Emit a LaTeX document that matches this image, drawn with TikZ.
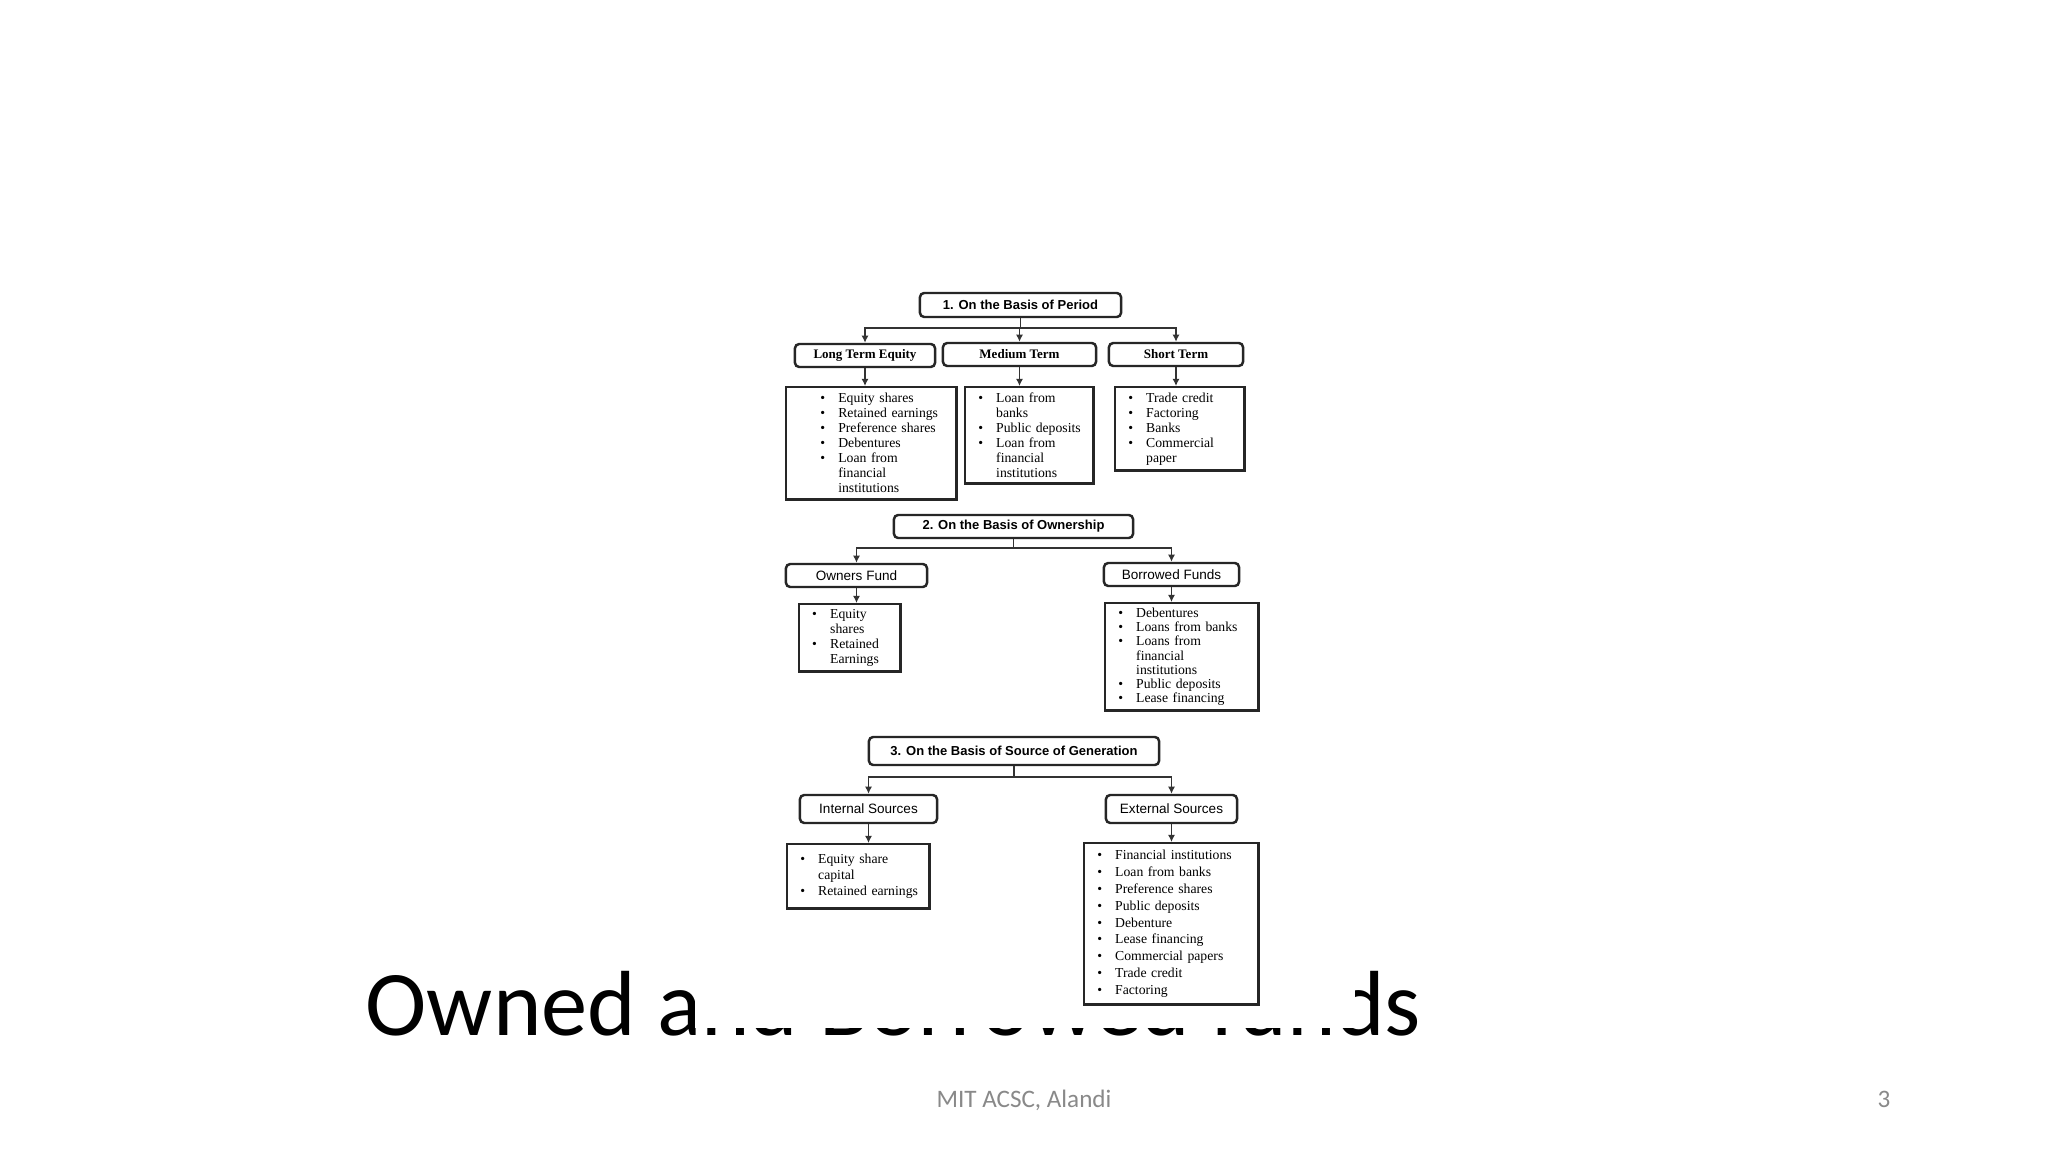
\documentclass[tikz,border=0pt]{standalone}
\usepackage{fontspec}
\setmainfont{Liberation Serif}
\newfontfamily\boxsans{Liberation Sans}
\newfontfamily\slidefont{Carlito}
\usepackage{tikz}
\usetikzlibrary{arrows.meta}
\definecolor{footgray}{RGB}{137,137,137}

\newcommand{\bitem}[2][3.7pt]{\hspace*{#1}\makebox[5.1pt][l]{\textbullet}#2}
\newcommand{\bcont}[2][8.8pt]{\hspace*{#1}#2}

\begin{document}
\begin{tikzpicture}[x=0.01cm,y=-0.01cm,every text node part/.style={align=left}]
  \tikzstyle{basis}=[draw=black!85,line width=0.7pt,rounded corners=1.2pt,
    inner sep=0pt,font=\boxsans\bfseries\fontsize{3.7}{4}\selectfont]
  \tikzstyle{kind}=[draw=black!85,line width=0.7pt,rounded corners=1.2pt,
    inner sep=0pt,minimum height=0.23cm]
  \tikzstyle{kindserif}=[kind,font=\bfseries\fontsize{3.7}{4}\selectfont]
  \tikzstyle{kindsans}=[kind,font=\boxsans\fontsize{3.85}{4}\selectfont]
  \tikzstyle{items}=[draw=black!85,line width=0.7pt,inner xsep=0pt,
    inner ysep=0pt,anchor=north west,font=\fontsize{3.9}{4.27}\selectfont]
  \tikzstyle{conn}=[draw=black!80,line width=0.55pt,
    -{Latex[length=2pt,width=2pt]}]

  \fill[white] (0,0) rectangle (2048,1152);
  \useasboundingbox (0,0) rectangle (2048,1152);

  \node [anchor=base west,inner sep=0pt,
    font=\slidefont\fontsize{26.3}{30}\selectfont] (title) at (365,1035)
    {Owned and Borrowed funds};
  \fill[white] (695,280) rectangle (1355,1028);

  \node [basis,minimum width=2.01cm,minimum height=0.24cm] (period)
    at (1020.5,305) {1. On the Basis of Period};
  \node [kindserif,minimum width=1.40cm] (longterm) at (865,355.5)
    {Long Term Equity};
  \node [kindserif,minimum width=1.53cm] (medterm) at (1019.5,354.5)
    {Medium Term};
  \node [kindserif,minimum width=1.34cm] (shortterm) at (1176,354.5)
    {Short Term};
  \node [items,text width=1.70cm,minimum height=1.12cm] (longlist) at (785,386) {
    \bitem[9.7pt]{Equity shares}\\
    \bitem[9.7pt]{Retained earnings}\\
    \bitem[9.7pt]{Preference shares}\\
    \bitem[9.7pt]{Debentures}\\
    \bitem[9.7pt]{Loan from}\\
    \bcont[14.8pt]{financial}\\
    \bcont[14.8pt]{institutions}
  };
  \node [items,text width=1.28cm,minimum height=0.96cm] (medlist) at (964,386) {
    \bitem{Loan from}\\
    \bcont{banks}\\
    \bitem{Public deposits}\\
    \bitem{Loan from}\\
    \bcont{financial}\\
    \bcont{institutions}
  };
  \node [items,text width=1.29cm,minimum height=0.83cm] (shortlist) at (1114,386) {
    \bitem{Trade credit}\\
    \bitem{Factoring}\\
    \bitem{Banks}\\
    \bitem{Commercial}\\
    \bcont{paper}
  };
  \draw[conn] (period.south) -- ++(0,10) -| (longterm.north);
  \draw[conn] (period.south) -- ++(0,10) -| (medterm.north);
  \draw[conn] (period.south) -- ++(0,10) -| (shortterm.north);
  \draw[conn] (longterm.south) -- (longterm.south |- longlist.north);
  \draw[conn] (medterm.south) -- (medterm.south |- medlist.north);
  \draw[conn] (shortterm.south) -- (shortterm.south |- shortlist.north);

  \node [basis,minimum width=2.39cm,minimum height=0.23cm] (owner)
    at (1013.5,526.5) {2. On the Basis of Ownership};
  \node [kindsans,minimum width=1.41cm] (ownfund) at (856.5,575.5)
    {Owners Fund};
  \node [kindsans,minimum width=1.35cm] (borfund) at (1171.5,574.5)
    {Borrowed Funds};
  \node [items,text width=1.01cm,minimum height=0.67cm] (ownlist) at (798,603) {
    \bitem{Equity}\\
    \bcont{shares}\\
    \bitem{Retained}\\
    \bcont{Earnings}
  };
  \node [items,text width=1.53cm,minimum height=1.07cm,
    font=\fontsize{3.9}{4.05}\selectfont] (borlist) at (1104,602) {
    \bitem{Debentures}\\
    \bitem{Loans from banks}\\
    \bitem{Loans from}\\
    \bcont{financial}\\
    \bcont{institutions}\\
    \bitem{Public deposits}\\
    \bitem{Lease financing}
  };
  \draw[conn] (owner.south) -- ++(0,9) -| (ownfund.north);
  \draw[conn] (owner.south) -- ++(0,9) -| (borfund.north);
  \draw[conn] (ownfund.south) -- (ownfund.south |- ownlist.north);
  \draw[conn] (borfund.south) -- (borfund.south |- borlist.north);

  \node [basis,minimum width=2.90cm,minimum height=0.28cm] (source)
    at (1014,751) {3. On the Basis of Source of Generation};
  \node [kindsans,minimum width=1.37cm,minimum height=0.28cm] (internal)
    at (868.5,809) {Internal Sources};
  \node [kindsans,minimum width=1.31cm,minimum height=0.28cm] (external)
    at (1171.5,809) {External Sources};
  \node [items,text width=1.42cm,minimum height=0.64cm,
    font=\fontsize{3.9}{4.6}\selectfont] (intlist) at (786,843) {
    \bitem{Equity share}\\
    \bcont{capital}\\
    \bitem{Retained earnings}
  };
  \node [items,text width=1.74cm,minimum height=1.61cm,
    font=\fontsize{3.9}{4.8}\selectfont] (extlist) at (1083,842) {
    \bitem{Financial institutions}\\
    \bitem{Loan from banks}\\
    \bitem{Preference shares}\\
    \bitem{Public deposits}\\
    \bitem{Debenture}\\
    \bitem{Lease financing}\\
    \bitem{Commercial papers}\\
    \bitem{Trade credit}\\
    \bitem{Factoring}
  };
  \draw[conn] (source.south) -- ++(0,11) -| (internal.north);
  \draw[conn] (source.south) -- ++(0,11) -| (external.north);
  \draw[conn] (internal.south) -- (internal.south |- intlist.north);
  \draw[conn] (external.south) -- (external.south |- extlist.north);

  \node [anchor=base,inner sep=0pt,text=footgray,
    font=\slidefont\fontsize{7.15}{8}\selectfont] (footer) at (1024,1107)
    {MIT ACSC, Alandi};
  \node [anchor=base,inner sep=0pt,text=footgray,
    font=\slidefont\fontsize{7.15}{8}\selectfont] (pagenum) at (1884,1107)
    {3};
\end{tikzpicture}
\end{document}
